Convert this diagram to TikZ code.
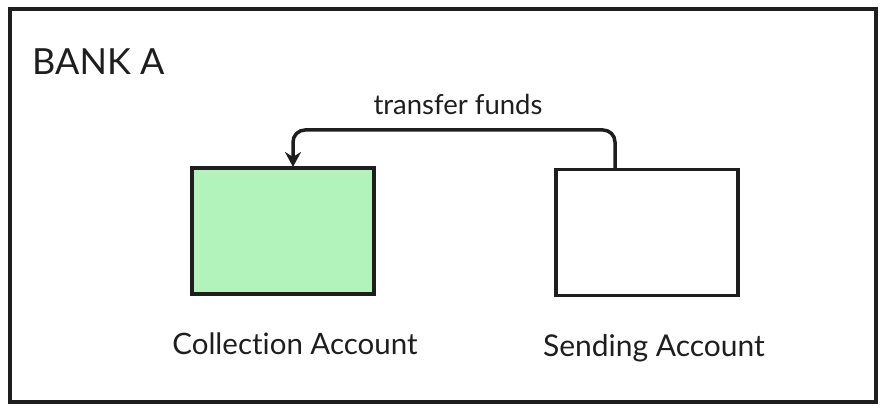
\documentclass[tikz,border=0pt]{standalone}
\usepackage{fontspec}
\setmainfont{Lato}[Ligatures={NoCommon,NoRare,NoDiscretionary}]
\usetikzlibrary{arrows.meta}
\definecolor{boxgreen}{HTML}{B2F2BB}
\definecolor{ink}{HTML}{1E1E1E}
\tikzset{
  acct/.style={draw=ink, line width=3.5pt, minimum width=182pt, minimum height=126pt, inner sep=0pt},
  lbl/.style={text=ink, inner sep=0pt},
  flow/.style={draw=ink, line width=3.5pt, rounded corners=12pt, -{Stealth[length=15pt,width=16pt,inset=5pt]}}
}
\begin{document}
\begin{tikzpicture}[x=1pt,y=-1pt]
\useasboundingbox (0,0) rectangle (885,411);
\node[draw=ink, line width=3.5pt, minimum width=866pt, minimum height=393pt, inner sep=0pt] (frame) at (443,205.5) {};
\node[lbl, anchor=west, font=\fontsize{36}{40}\selectfont] (bank) at (32,62) {BANK A};
\node[acct, fill=boxgreen] (coll) at (283,231) {};
\node[acct, fill=white] (send) at (647,232.5) {};
\node[lbl, font=\fontsize{27.5}{30}\selectfont] (tf) at (458,104) {transfer funds};
\node[lbl, font=\fontsize{29.5}{33}\selectfont] (cl) at (295,344) {Collection Account};
\node[lbl, font=\fontsize{30}{33}\selectfont] (sl) at (654,348) {Sending Account};
\coordinate (s) at (615,170);
\coordinate (e) at (293,167);
\draw[flow] (s) -- (615,130) -- (293,130) -- (e);
\end{tikzpicture}
\end{document}
